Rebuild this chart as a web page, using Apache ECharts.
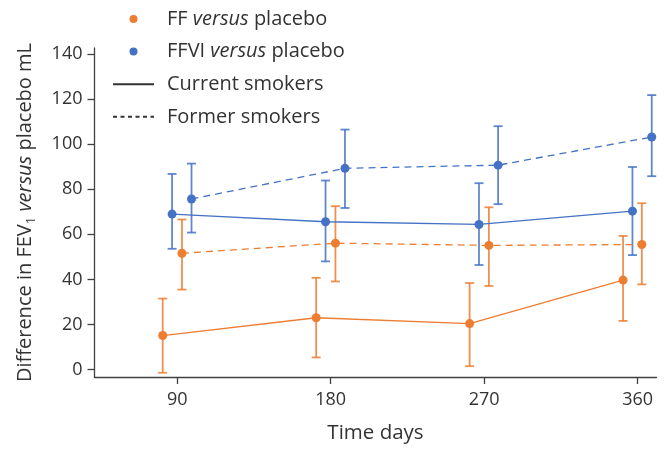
<!DOCTYPE html>
<html>
<head>
<meta charset="utf-8">
<script src="https://cdn.jsdelivr.net/npm/echarts@6/dist/echarts.min.js"></script>
<style>html,body{margin:0;padding:0;background:#fff;}#c{width:667px;height:449px;}</style>
</head>
<body>
<div id="c"></div>
<script>
// ---- data ----
const xTicks = [90, 180, 270, 360];
const yTicks = [0, 20, 40, 60, 80, 100, 120, 140];

const ffCurrentDays = [81.5, 171.5, 261.5, 351.5];
const ffCurrent     = [15.1, 23.0, 20.4, 39.7];
const ffCurrentLow  = [-1.4, 5.4, 1.5, 21.6];
const ffCurrentHigh = [31.5, 40.7, 38.4, 59.3];

const ffviCurrentDays = [87, 177, 267, 357];
const ffviCurrent     = [69.0, 65.6, 64.4, 70.3];
const ffviCurrentLow  = [53.6, 48.0, 46.4, 50.8];
const ffviCurrentHigh = [86.8, 83.9, 82.7, 89.9];

const ffFormerDays = [92.8, 182.8, 272.8, 362.5];
const ffFormer     = [51.6, 56.1, 55.1, 55.5];
const ffFormerLow  = [35.5, 39.1, 37.1, 37.8];
const ffFormerHigh = [66.6, 72.5, 72.0, 73.8];

const ffviFormerDays = [98.4, 188.4, 278.2, 368.3];
const ffviFormer     = [75.7, 89.3, 90.7, 103.2];
const ffviFormerLow  = [60.8, 71.7, 73.4, 85.8];
const ffviFormerHigh = [91.4, 106.5, 108.0, 121.8];

const ORANGE = '#ED7D31';
const BLUE = '#4472C4';
const TXT = '#333333';
const FONT = 'Open Sans';

function pts(xs, ys) { return xs.map((x, i) => [x, ys[i]]); }
function bars(xs, lo, hi) { return xs.map((x, i) => [x, lo[i], hi[i]]); }

function errRender(color) {
  return function (params, api) {
    const x = api.value(0), lo = api.value(1), hi = api.value(2);
    const a = api.coord([x, lo]), b = api.coord([x, hi]);
    const w = 4.5;
    const st = { stroke: color, lineWidth: 1.8, opacity: 0.85 };
    return {
      type: 'group',
      children: [
        { type: 'line', shape: { x1: a[0], y1: a[1], x2: b[0], y2: b[1] }, style: st },
        { type: 'line', shape: { x1: a[0] - w, y1: a[1], x2: a[0] + w, y2: a[1] }, style: st },
        { type: 'line', shape: { x1: b[0] - w, y1: b[1], x2: b[0] + w, y2: b[1] }, style: st }
      ]
    };
  };
}

function errSeries(name, data, color) {
  return {
    name: name, type: 'custom', data: data, renderItem: errRender(color),
    encode: { x: 0, y: [1, 2] }, z: 1, silent: true
  };
}

function lineSeries(name, data, color, dashed) {
  return {
    name: name, type: 'line', data: data, symbol: 'circle', symbolSize: 9,
    itemStyle: { color: color }, z: 3,
    lineStyle: { color: color, width: 1.3, type: dashed ? [7, 5] : 'solid' }
  };
}

const legendNames = {
  'FF versus placebo': '{p|FF }{i|versus}{n| placebo}',
  'FFVI versus placebo': '{p|FFVI }{i|versus}{n| placebo}',
  'Current smokers': '{p|Current smokers}',
  'Former smokers': '{p|Former smokers}'
};

const chart = echarts.init(document.getElementById('c'), null, { renderer: 'canvas' });
chart.setOption({
  animation: false,
  backgroundColor: '#fff',
  textStyle: { fontFamily: FONT },
  grid: { left: 94.5, right: 10.5, top: 48, bottom: 68, containLabel: false },
  legend: {
    orient: 'vertical', left: 107, top: 4, itemWidth: 41, itemHeight: 8, itemGap: 12.6,
    selectedMode: false,
    data: [
      { name: 'FF versus placebo', icon: 'circle' },
      { name: 'FFVI versus placebo', icon: 'circle' },
      { name: 'Current smokers', itemStyle: { opacity: 0 } },
      { name: 'Former smokers', itemStyle: { opacity: 0 } }
    ],
    formatter: function (n) { return legendNames[n] || n; },
    textStyle: {
      color: TXT, fontSize: 20, fontFamily: FONT, lineHeight: 20,
      rich: {
        p: { fontSize: 20, fontFamily: FONT, color: TXT, lineHeight: 20, padding: [0, 0, 0, 8] },
        n: { fontSize: 20, fontFamily: FONT, color: TXT, lineHeight: 20 },
        i: { fontSize: 20, fontFamily: FONT, color: TXT, lineHeight: 20, fontStyle: 'italic' }
      }
    }
  },
  xAxis: {
    type: 'value', min: 41.5, max: 371.1,
    name: 'Time days', nameLocation: 'middle', nameGap: 45,
    nameTextStyle: { fontSize: 20.5, color: TXT, fontFamily: FONT, lineHeight: 22 },
    axisLine: { show: true, onZero: false, lineStyle: { color: '#404040', width: 1.3 } },
    axisTick: { show: true, length: 7, customValues: xTicks, lineStyle: { color: '#404040', width: 1.3 } },
    axisLabel: { customValues: xTicks, margin: 14, fontSize: 18, color: TXT, fontFamily: FONT },
    splitLine: { show: false }
  },
  yAxis: {
    type: 'value', min: -3.3, max: 142.7,
    name: '{n|Difference in FEV}{s|1}{n| }{i|versus}{n| placebo mL}',
    nameLocation: 'middle', nameGap: 57, nameRotate: 90,
    nameTextStyle: {
      fontSize: 20, color: TXT, fontFamily: FONT,
      rich: {
        n: { fontSize: 20, color: TXT, fontFamily: FONT, lineHeight: 24 },
        i: { fontSize: 20, color: TXT, fontFamily: FONT, fontStyle: 'italic', lineHeight: 24 },
        s: { fontSize: 13, color: TXT, fontFamily: FONT, lineHeight: 24, verticalAlign: 'bottom', padding: [6, 0, 0, 0] }
      }
    },
    axisLine: { show: true, onZero: false, lineStyle: { color: '#404040', width: 1.3 } },
    axisTick: { show: true, length: 7, customValues: yTicks, lineStyle: { color: '#404040', width: 1.3 } },
    axisLabel: { customValues: yTicks, margin: 12, fontSize: 18, color: TXT, fontFamily: FONT },
    splitLine: { show: false }
  },
  series: [
    errSeries('errFFc', bars(ffCurrentDays, ffCurrentLow, ffCurrentHigh), ORANGE),
    errSeries('errFFVIc', bars(ffviCurrentDays, ffviCurrentLow, ffviCurrentHigh), BLUE),
    errSeries('errFFf', bars(ffFormerDays, ffFormerLow, ffFormerHigh), ORANGE),
    errSeries('errFFVIf', bars(ffviFormerDays, ffviFormerLow, ffviFormerHigh), BLUE),
    lineSeries('FF versus placebo', pts(ffCurrentDays, ffCurrent), ORANGE, false),
    lineSeries('FFVI versus placebo', pts(ffviCurrentDays, ffviCurrent), BLUE, false),
    lineSeries('FF versus placebo', pts(ffFormerDays, ffFormer), ORANGE, true),
    lineSeries('FFVI versus placebo', pts(ffviFormerDays, ffviFormer), BLUE, true),
    { name: 'Current smokers', type: 'line', data: [], symbol: 'none', itemStyle: { color: '#333' }, lineStyle: { color: '#333', width: 1, type: 'solid' } },
    { name: 'Former smokers', type: 'line', data: [], symbol: 'none', itemStyle: { color: '#333' }, lineStyle: { color: '#333', width: 1, type: [4, 3.5] } }
  ]
});
</script>
</body>
</html>
